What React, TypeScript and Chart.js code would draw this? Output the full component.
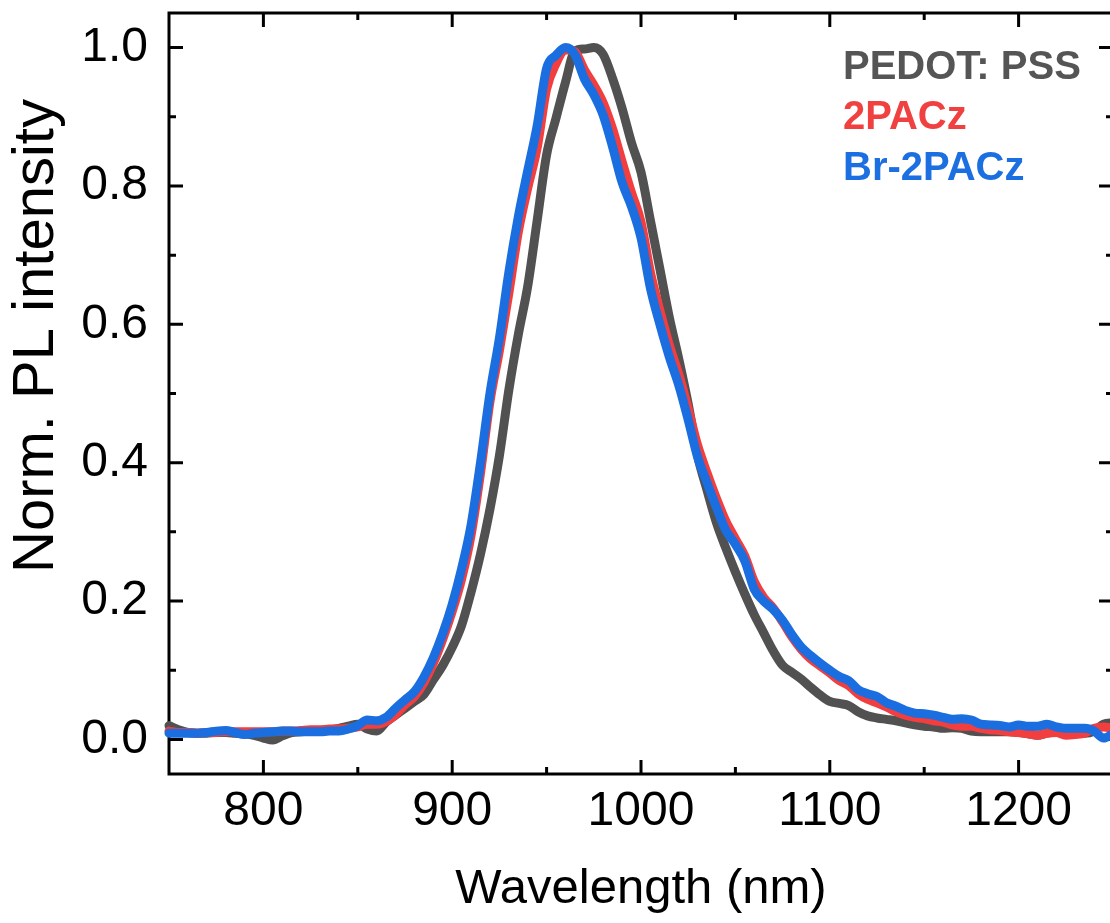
import React, { useEffect, useRef } from "react";
import { Chart, registerables } from "chart.js";

Chart.register(...registerables);

const wavelengths = [
  750, 755, 760, 765, 770, 775, 780, 785, 790, 795,
  800, 805, 810, 815, 820, 825, 830, 835, 840, 845,
  850, 855, 860, 865, 870, 875, 880, 885, 890, 895,
  900, 905, 910, 915, 920, 925, 930, 935, 940, 945,
  950, 955, 960, 965, 970, 975, 980, 985, 990, 995,
  1000, 1005, 1010, 1015, 1020, 1025, 1030, 1035, 1040, 1045,
  1050, 1055, 1060, 1065, 1070, 1075, 1080, 1085, 1090, 1095,
  1100, 1105, 1110, 1115, 1120, 1125, 1130, 1135, 1140, 1145,
  1150, 1155, 1160, 1165, 1170, 1175, 1180, 1185, 1190, 1195,
  1200, 1205, 1210, 1215, 1220, 1225, 1230, 1235, 1240, 1245,
  1250,
];

const pedotPss = [
  0.020, 0.014, 0.010, 0.009, 0.009, 0.010, 0.010, 0.009, 0.008, 0.006,
  0.002, -0.001, 0.005, 0.010, 0.011, 0.012, 0.013, 0.014, 0.016, 0.019,
  0.022, 0.015, 0.012, 0.025, 0.035, 0.045, 0.055, 0.065, 0.086, 0.107,
  0.133, 0.165, 0.213, 0.268, 0.333, 0.410, 0.505, 0.585, 0.655, 0.750,
  0.845, 0.898, 0.950, 0.995, 0.998, 1.000, 0.990, 0.955, 0.912, 0.862,
  0.820, 0.750, 0.680, 0.610, 0.550, 0.485, 0.410, 0.360, 0.313, 0.276,
  0.242, 0.210, 0.180, 0.154, 0.128, 0.107, 0.097, 0.087, 0.075, 0.064,
  0.055, 0.052, 0.049, 0.040, 0.034, 0.031, 0.029, 0.027, 0.024, 0.021,
  0.019, 0.018, 0.016, 0.017, 0.016, 0.012, 0.011, 0.011, 0.011, 0.011,
  0.010, 0.008, 0.006, 0.009, 0.011, 0.010, 0.009, 0.009, 0.012, 0.022,
  0.024,
];

const pacz2 = [
  0.012, 0.010, 0.010, 0.009, 0.010, 0.010, 0.011, 0.011, 0.011, 0.011,
  0.011, 0.011, 0.012, 0.012, 0.013, 0.014, 0.014, 0.015, 0.015, 0.016,
  0.018, 0.022, 0.022, 0.026, 0.036, 0.050, 0.062, 0.082, 0.110, 0.145,
  0.185, 0.232, 0.295, 0.385, 0.488, 0.562, 0.645, 0.733, 0.797, 0.855,
  0.940, 0.977, 0.997, 0.994, 0.968, 0.946, 0.920, 0.882, 0.835, 0.790,
  0.748, 0.675, 0.620, 0.570, 0.528, 0.478, 0.425, 0.385, 0.348, 0.315,
  0.290, 0.265, 0.228, 0.205, 0.190, 0.170, 0.148, 0.130, 0.116, 0.106,
  0.096, 0.085, 0.078, 0.066, 0.058, 0.053, 0.047, 0.040, 0.035, 0.032,
  0.030, 0.027, 0.025, 0.021, 0.019, 0.019, 0.016, 0.014, 0.013, 0.011,
  0.010, 0.008, 0.006, 0.009, 0.010, 0.006, 0.007, 0.009, 0.016, 0.018,
  0.016,
];

const brPacz2 = [
  0.009, 0.009, 0.009, 0.009, 0.010, 0.012, 0.013, 0.010, 0.007, 0.009,
  0.010, 0.011, 0.012, 0.012, 0.011, 0.011, 0.011, 0.012, 0.012, 0.015,
  0.020, 0.028, 0.027, 0.032, 0.045, 0.057, 0.069, 0.090, 0.118, 0.153,
  0.195, 0.247, 0.310, 0.400, 0.500, 0.580, 0.675, 0.755, 0.822, 0.887,
  0.970, 0.989, 1.000, 0.990, 0.955, 0.932, 0.902, 0.856, 0.805, 0.770,
  0.725, 0.652, 0.600, 0.553, 0.512, 0.462, 0.408, 0.371, 0.335, 0.302,
  0.282, 0.258, 0.217, 0.200, 0.188, 0.172, 0.151, 0.133, 0.121, 0.110,
  0.100, 0.091, 0.085, 0.072, 0.066, 0.062, 0.053, 0.048, 0.042, 0.038,
  0.037, 0.035, 0.032, 0.029, 0.030, 0.028, 0.022, 0.021, 0.020, 0.018,
  0.021, 0.019, 0.019, 0.022, 0.018, 0.016, 0.016, 0.016, 0.012, 0.002,
  0.008,
];

const seriesLabels = ["PEDOT: PSS", "2PACz", "Br-2PACz"];
const seriesColors = ["#515151", "#F23E3E", "#1B6EE0"];
const legendColors = ["#555555", "#F04040", "#1C6FE0"];

const xMajorTicks = [800, 900, 1000, 1100, 1200];
const xMinorTicks = [850, 950, 1050, 1150];
const yMajorTicks = [0, 0.2, 0.4, 0.6, 0.8, 1.0];
const yMinorTicks = [0.1, 0.3, 0.5, 0.7, 0.9];

const xTitle = "Wavelength (nm)";
const yTitle = "Norm. PL intensity";

const FONT = "'Liberation Sans', Arial, Helvetica, sans-serif";

const framePlugin = {
  id: "frameAndTicks",
  beforeDatasetsDraw(chart: any) {
    const { ctx, chartArea, scales } = chart;
    const { left, right, top, bottom } = chartArea;
    const xs = scales.x;
    const ys = scales.y;
    ctx.save();
    ctx.strokeStyle = "#000";
    ctx.lineWidth = 3;
    ctx.lineCap = "butt";
    ctx.strokeRect(left, top, right - left, bottom - top);
    const major = 14;
    const minor = 7;
    ctx.beginPath();
    const xt = (vals: number[], len: number) => {
      vals.forEach((v) => {
        const px = xs.getPixelForValue(v);
        ctx.moveTo(px, bottom);
        ctx.lineTo(px, bottom - len);
        ctx.moveTo(px, top);
        ctx.lineTo(px, top + len);
      });
    };
    const yt = (vals: number[], len: number) => {
      vals.forEach((v) => {
        const py = ys.getPixelForValue(v);
        ctx.moveTo(left, py);
        ctx.lineTo(left + len, py);
        ctx.moveTo(right, py);
        ctx.lineTo(right - len, py);
      });
    };
    xt(xMajorTicks, major);
    xt(xMinorTicks, minor);
    yt(yMajorTicks, major);
    yt(yMinorTicks, minor);
    ctx.stroke();
    ctx.restore();
  },
  afterDraw(chart: any) {
    const { ctx, chartArea } = chart;
    ctx.save();
    ctx.fillStyle = "#000";
    // x title
    ctx.font = `49px ${FONT}`;
    ctx.textAlign = "center";
    ctx.textBaseline = "alphabetic";
    ctx.fillText(xTitle, (chartArea.left + chartArea.right) / 2, 903);
    // y title
    ctx.save();
    ctx.translate(53, 336);
    ctx.rotate(-Math.PI / 2);
    ctx.font = `58px ${FONT}`;
    ctx.textAlign = "center";
    ctx.fillText(yTitle, 0, 0);
    ctx.restore();
    // legend
    ctx.font = `bold 40px ${FONT}`;
    ctx.textAlign = "left";
    const baselines = [79, 129, 180];
    seriesLabels.forEach((lab, i) => {
      ctx.fillStyle = legendColors[i];
      ctx.fillText(lab, 843, baselines[i]);
    });
    ctx.restore();
  },
};

export default function App() {
  const ref = useRef<HTMLCanvasElement | null>(null);

  useEffect(() => {
    if (!ref.current) return;
    const series = [pedotPss, pacz2, brPacz2];
    const orders = [2, 1, 0];
    const chart = new Chart(ref.current, {
      type: "line",
      data: {
        datasets: series.map((s, i) => ({
          label: seriesLabels[i],
          data: wavelengths.map((w, j) => ({ x: w, y: s[j] })),
          borderColor: seriesColors[i],
          backgroundColor: seriesColors[i],
          borderWidth: 9,
          pointRadius: 0,
          fill: false,
          cubicInterpolationMode: "monotone" as const,
          borderJoinStyle: "round" as const,
          borderCapStyle: "round" as const,
          order: orders[i],
          clip: false as any,
        })),
      },
      options: {
        animation: false,
        responsive: false,
        devicePixelRatio: 1,
        layout: { padding: { left: 0, right: 17, top: 13, bottom: 0 } },
        plugins: {
          legend: { display: false },
          tooltip: { enabled: false },
        },
        scales: {
          x: {
            type: "linear",
            min: 750,
            max: 1250,
            afterBuildTicks: (s: any) => {
              s.ticks = xMajorTicks.map((v) => ({ value: v }));
            },
            afterFit: (s: any) => {
              s.height = 149;
              s.paddingLeft = 0;
              s.paddingRight = 0;
              s.paddingTop = 0;
              s.paddingBottom = 0;
            },
            grid: { display: false, drawTicks: false, tickLength: 0 },
            border: { display: false },
            ticks: {
              color: "#000",
              font: { family: FONT, size: 48 },
              padding: 9,
              maxRotation: 0,
              callback: (v: any) => String(v),
            },
          },
          y: {
            type: "linear",
            min: -0.05,
            max: 1.05,
            afterBuildTicks: (s: any) => {
              s.ticks = yMajorTicks.map((v) => ({ value: v }));
            },
            afterFit: (s: any) => {
              s.width = 169;
              s.paddingLeft = 0;
              s.paddingRight = 0;
              s.paddingTop = 0;
              s.paddingBottom = 0;
            },
            grid: { display: false, drawTicks: false, tickLength: 0 },
            border: { display: false },
            ticks: {
              color: "#000",
              font: { family: FONT, size: 48 },
              padding: 21,
              callback: (v: any) => Number(v).toFixed(1),
            },
          },
        },
      },
      plugins: [framePlugin],
    });
    return () => chart.destroy();
  }, []);

  return (
    <div
      style={{
        position: "absolute",
        left: 0,
        top: 0,
        width: 1110,
        height: 923,
        overflow: "hidden",
        background: "#fff",
      }}
    >
      <canvas
        ref={ref}
        width={1130}
        height={923}
        style={{ display: "block", width: 1130, height: 923 }}
      />
    </div>
  );
}
